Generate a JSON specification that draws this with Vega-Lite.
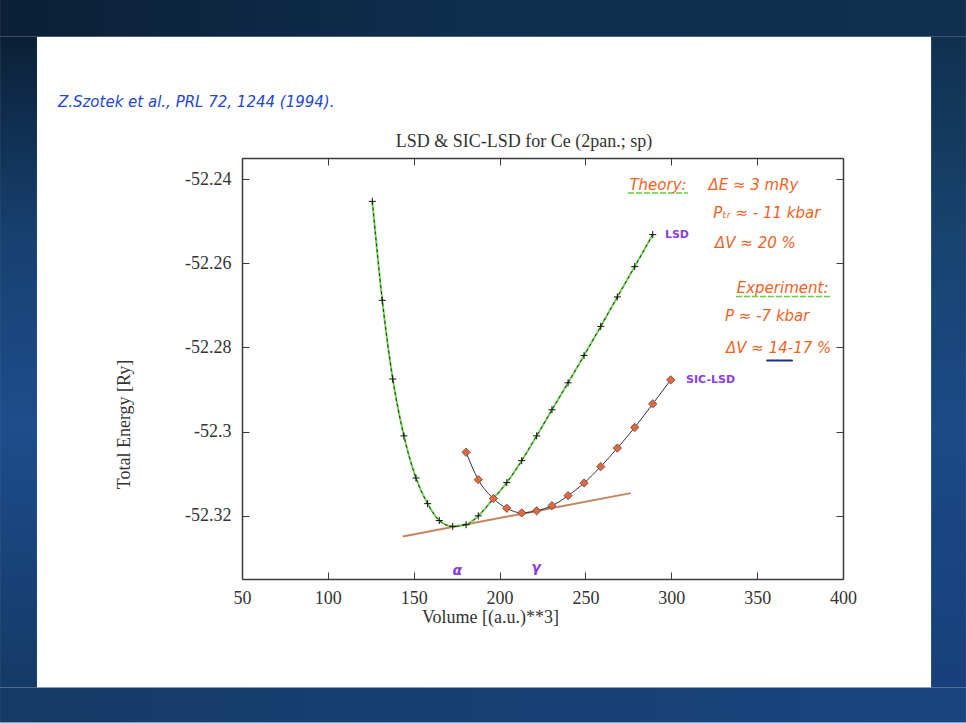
{
  "$schema": "https://vega.github.io/schema/vega-lite/v6.json",
  "width": 601,
  "height": 421,
  "autosize": {"type": "none"},
  "padding": {"left": 242, "top": 158, "right": 123, "bottom": 144},
  "background": "#ffffff",
  "config": {
    "view": {"stroke": null},
    "axis": {
      "grid": false,
      "domainColor": "#3a3a3a",
      "domainWidth": 1.5,
      "tickColor": "#3a3a3a",
      "tickWidth": 1,
      "tickSize": -7,
      "labelFont": "Liberation Serif",
      "labelFontSize": 18,
      "labelColor": "#333333",
      "titleFont": "Liberation Serif",
      "titleFontSize": 18,
      "titleColor": "#333333",
      "titleFontWeight": "normal"
    }
  },
  "datasets": {
    "lsd": [
      {"volume": 125.9, "energy": -52.2453},
      {"volume": 131.7, "energy": -52.2688},
      {"volume": 137.8, "energy": -52.2875},
      {"volume": 144.3, "energy": -52.3010},
      {"volume": 151.3, "energy": -52.3110},
      {"volume": 158.1, "energy": -52.3171},
      {"volume": 164.9, "energy": -52.3211},
      {"volume": 172.7, "energy": -52.3225},
      {"volume": 180.5, "energy": -52.3221},
      {"volume": 187.6, "energy": -52.3200},
      {"volume": 196.4, "energy": -52.3159},
      {"volume": 204.2, "energy": -52.3121},
      {"volume": 212.9, "energy": -52.3069},
      {"volume": 221.6, "energy": -52.3010},
      {"volume": 230.5, "energy": -52.2948},
      {"volume": 239.9, "energy": -52.2884},
      {"volume": 249.2, "energy": -52.2819},
      {"volume": 258.9, "energy": -52.2750},
      {"volume": 268.6, "energy": -52.2680},
      {"volume": 278.7, "energy": -52.2608},
      {"volume": 289.2, "energy": -52.2532}
    ],
    "sic": [
      {"volume": 180.5, "energy": -52.3049},
      {"volume": 187.6, "energy": -52.3114},
      {"volume": 196.4, "energy": -52.3159},
      {"volume": 204.2, "energy": -52.3182},
      {"volume": 212.9, "energy": -52.3193},
      {"volume": 221.6, "energy": -52.3188},
      {"volume": 230.5, "energy": -52.3176},
      {"volume": 239.9, "energy": -52.3152},
      {"volume": 249.2, "energy": -52.3122},
      {"volume": 258.9, "energy": -52.3083},
      {"volume": 268.6, "energy": -52.3039},
      {"volume": 278.7, "energy": -52.2990},
      {"volume": 289.2, "energy": -52.2934},
      {"volume": 299.7, "energy": -52.2877}
    ],
    "tangent": [
      {"volume": 143.6, "energy": -52.3249},
      {"volume": 276.4, "energy": -52.3146}
    ],
    "underlines": [
      {"volume": 274.8, "volume2": 309.7, "energy": -52.2433},
      {"volume": 337.7, "volume2": 393.0, "energy": -52.2679}
    ],
    "wave": [
      {"volume": 355.8, "volume2": 370.3, "energy": -52.2831}
    ],
    "notes": [
      {"volume": 214.2, "energy": -52.2323, "text": "LSD & SIC-LSD for Ce (2pan.; sp)", "group": "title"},
      {"volume": -57.2, "energy": -52.2216, "text": "Z.Szotek et al., PRL 72, 1244 (1994).", "group": "cite"},
      {"volume": 275.6, "energy": -52.2413, "text": "Theory:", "group": "note"},
      {"volume": 321.6, "energy": -52.2413, "text": "ΔE ≈ 3 mRy", "group": "note"},
      {"volume": 324.5, "energy": -52.2481, "text": "Pₜᵣ ≈ - 11 kbar", "group": "note"},
      {"volume": 325.5, "energy": -52.2552, "text": "ΔV ≈ 20 %", "group": "note"},
      {"volume": 338.1, "energy": -52.2659, "text": "Experiment:", "group": "note"},
      {"volume": 331.3, "energy": -52.2726, "text": "P ≈ -7 kbar", "group": "note"},
      {"volume": 331.9, "energy": -52.2801, "text": "ΔV ≈ 14-17 %", "group": "note"},
      {"volume": 296.3, "energy": -52.2532, "text": "LSD", "group": "curve"},
      {"volume": 308.6, "energy": -52.2877, "text": "SIC-LSD", "group": "curve"},
      {"volume": 175.4, "energy": -52.3332, "text": "α", "group": "phase"},
      {"volume": 221.2, "energy": -52.3324, "text": "γ", "group": "phase"}
    ]
  },
  "resolve": {"axis": {"x": "independent", "y": "independent"}},
  "layer": [
    {
      "data": {"values": [{}]},
      "mark": {"type": "rect", "color": {"gradient": "linear", "x1": 0, "y1": 0, "x2": 1, "y2": 0, "stops": [{"offset": 0, "color": "#0b2036"}, {"offset": 0.5, "color": "#0f2e4e"}, {"offset": 1, "color": "#11304f"}]}},
      "encoding": {
        "x": {"datum": -90.9, "type": "quantitative", "axis": null, "scale": {"domain": [50, 400], "nice": false, "zero": false}},
        "x2": {"datum": 471.6},
        "y": {"datum": -52.1974, "type": "quantitative", "axis": null, "scale": {"domain": [-52.335, -52.235], "nice": false, "zero": false}},
        "y2": {"datum": -52.2062}
      }
    },
    {
      "data": {"values": [{}]},
      "mark": {"type": "rect", "color": {"gradient": "linear", "x1": 0, "y1": 0, "x2": 1, "y2": 0, "stops": [{"offset": 0, "color": "#143a66"}, {"offset": 1, "color": "#19457f"}]}},
      "encoding": {
        "x": {"datum": -90.9, "type": "quantitative", "axis": null, "scale": {"domain": [50, 400], "nice": false, "zero": false}},
        "x2": {"datum": 471.6},
        "y": {"datum": -52.3608, "type": "quantitative", "axis": null, "scale": {"domain": [-52.335, -52.235], "nice": false, "zero": false}},
        "y2": {"datum": -52.3691}
      }
    },
    {
      "data": {"values": [{}]},
      "mark": {"type": "rect", "color": {"gradient": "linear", "x1": 0, "y1": 0, "x2": 0, "y2": 1, "stops": [{"offset": 0, "color": "#0b2036"}, {"offset": 0.3, "color": "#17406f"}, {"offset": 0.6, "color": "#1d4d8c"}, {"offset": 1, "color": "#143a66"}]}},
      "encoding": {
        "x": {"datum": -90.9, "type": "quantitative", "axis": null, "scale": {"domain": [50, 400], "nice": false, "zero": false}},
        "x2": {"datum": -69.4},
        "y": {"datum": -52.2062, "type": "quantitative", "axis": null, "scale": {"domain": [-52.335, -52.235], "nice": false, "zero": false}},
        "y2": {"datum": -52.3608}
      }
    },
    {
      "data": {"values": [{}]},
      "mark": {"type": "rect", "color": {"gradient": "linear", "x1": 0, "y1": 0, "x2": 0, "y2": 1, "stops": [{"offset": 0, "color": "#11304f"}, {"offset": 0.3, "color": "#17436f"}, {"offset": 0.6, "color": "#1b4a86"}, {"offset": 1, "color": "#17407a"}]}},
      "encoding": {
        "x": {"datum": 451.3, "type": "quantitative", "axis": null, "scale": {"domain": [50, 400], "nice": false, "zero": false}},
        "x2": {"datum": 471.6},
        "y": {"datum": -52.2062, "type": "quantitative", "axis": null, "scale": {"domain": [-52.335, -52.235], "nice": false, "zero": false}},
        "y2": {"datum": -52.3608}
      }
    },
    {
      "data": {"name": "tangent"},
      "mark": {"type": "line", "color": "#c4845c", "strokeWidth": 2},
      "encoding": {
        "x": {"field": "volume", "type": "quantitative", "axis": null, "scale": {"domain": [50, 400], "nice": false, "zero": false}},
        "y": {"field": "energy", "type": "quantitative", "axis": null, "scale": {"domain": [-52.335, -52.235], "nice": false, "zero": false}}
      }
    },
    {
      "data": {"name": "lsd"},
      "mark": {"type": "line", "color": "#74d856", "strokeWidth": 2, "interpolate": "monotone"},
      "encoding": {
        "x": {
          "field": "volume", "type": "quantitative",
          "scale": {"domain": [50, 400], "nice": false, "zero": false},
          "axis": {
            "orient": "bottom",
            "values": [50, 100, 150, 200, 250, 300, 350, 400],
            "labelPadding": 17,
            "labelFlush": false,
            "title": "Volume [(a.u.)**3]",
            "titleX": 248,
            "titleY": 43,
            "titleAlign": "center",
            "titleBaseline": "alphabetic"
          }
        },
        "y": {
          "field": "energy", "type": "quantitative",
          "scale": {"domain": [-52.335, -52.235], "nice": false, "zero": false},
          "axis": {
            "orient": "left",
            "values": [-52.32, -52.3, -52.28, -52.26, -52.24],
            "format": ".4~g",
            "labelExpr": "replace(datum.label, '\u2212', '-')",
            "labelPadding": 18,
            "labelFlush": false,
            "title": "Total Energy [Ry]",
            "titleX": -113,
            "titleY": 266,
            "titleAngle": 270,
            "titleAlign": "center",
            "titleBaseline": "alphabetic"
          }
        }
      }
    },
    {
      "data": {"name": "lsd"},
      "mark": {"type": "line", "color": "#1a1a1a", "strokeWidth": 0.9, "strokeDash": [3, 3], "interpolate": "monotone"},
      "encoding": {
        "x": {
          "field": "volume", "type": "quantitative",
          "scale": {"domain": [50, 400], "nice": false, "zero": false},
          "axis": {"orient": "top", "values": [50, 100, 150, 200, 250, 300, 350, 400], "labels": false, "title": null}
        },
        "y": {
          "field": "energy", "type": "quantitative",
          "scale": {"domain": [-52.335, -52.235], "nice": false, "zero": false},
          "axis": {"orient": "right", "values": [-52.32, -52.3, -52.28, -52.26, -52.24], "labels": false, "title": null}
        }
      }
    },
    {
      "data": {"name": "lsd"},
      "mark": {"type": "point", "shape": "M-1,0H1M0,-1V1", "filled": false, "color": "#111111", "strokeWidth": 1, "size": 50, "opacity": 1},
      "encoding": {
        "x": {"field": "volume", "type": "quantitative", "axis": null, "scale": {"domain": [50, 400], "nice": false, "zero": false}},
        "y": {"field": "energy", "type": "quantitative", "axis": null, "scale": {"domain": [-52.335, -52.235], "nice": false, "zero": false}}
      }
    },
    {
      "data": {"name": "sic"},
      "mark": {"type": "line", "color": "#333333", "strokeWidth": 1, "interpolate": "monotone"},
      "encoding": {
        "x": {"field": "volume", "type": "quantitative", "axis": null, "scale": {"domain": [50, 400], "nice": false, "zero": false}},
        "y": {"field": "energy", "type": "quantitative", "axis": null, "scale": {"domain": [-52.335, -52.235], "nice": false, "zero": false}}
      }
    },
    {
      "data": {"name": "sic"},
      "mark": {"type": "point", "shape": "diamond", "filled": true, "fill": "#dc6a44", "stroke": "#6e4434", "strokeWidth": 0.8, "size": 70, "opacity": 1},
      "encoding": {
        "x": {"field": "volume", "type": "quantitative", "axis": null, "scale": {"domain": [50, 400], "nice": false, "zero": false}},
        "y": {"field": "energy", "type": "quantitative", "axis": null, "scale": {"domain": [-52.335, -52.235], "nice": false, "zero": false}}
      }
    },
    {
      "data": {"name": "underlines"},
      "mark": {"type": "rule", "color": "#66cc44", "strokeWidth": 1.5, "strokeDash": [6, 2]},
      "encoding": {
        "x": {"field": "volume", "type": "quantitative", "axis": null, "scale": {"domain": [50, 400], "nice": false, "zero": false}},
        "x2": {"field": "volume2"},
        "y": {"field": "energy", "type": "quantitative", "axis": null, "scale": {"domain": [-52.335, -52.235], "nice": false, "zero": false}}
      }
    },
    {
      "data": {"name": "wave"},
      "mark": {"type": "rule", "color": "#1c2a8c", "strokeWidth": 2, "strokeCap": "round"},
      "encoding": {
        "x": {"field": "volume", "type": "quantitative", "axis": null, "scale": {"domain": [50, 400], "nice": false, "zero": false}},
        "x2": {"field": "volume2"},
        "y": {"field": "energy", "type": "quantitative", "axis": null, "scale": {"domain": [-52.335, -52.235], "nice": false, "zero": false}}
      }
    },
    {
      "data": {"name": "notes"},
      "transform": [{"filter": "datum.group === 'title'"}],
      "mark": {"type": "text", "align": "center", "baseline": "alphabetic", "font": "Liberation Serif", "fontSize": 18, "color": "#333333"},
      "encoding": {
        "x": {"field": "volume", "type": "quantitative", "axis": null, "scale": {"domain": [50, 400], "nice": false, "zero": false}},
        "y": {"field": "energy", "type": "quantitative", "axis": null, "scale": {"domain": [-52.335, -52.235], "nice": false, "zero": false}},
        "text": {"field": "text"}
      }
    },
    {
      "data": {"name": "notes"},
      "transform": [{"filter": "datum.group === 'cite'"}],
      "mark": {"type": "text", "align": "left", "baseline": "middle", "font": "DejaVu Sans", "fontStyle": "italic", "fontSize": 15, "color": "#2346d6"},
      "encoding": {
        "x": {"field": "volume", "type": "quantitative", "axis": null, "scale": {"domain": [50, 400], "nice": false, "zero": false}},
        "y": {"field": "energy", "type": "quantitative", "axis": null, "scale": {"domain": [-52.335, -52.235], "nice": false, "zero": false}},
        "text": {"field": "text"}
      }
    },
    {
      "data": {"name": "notes"},
      "transform": [{"filter": "datum.group === 'note'"}],
      "mark": {"type": "text", "align": "left", "baseline": "middle", "font": "DejaVu Sans", "fontStyle": "italic", "fontSize": 15, "color": "#f0621e"},
      "encoding": {
        "x": {"field": "volume", "type": "quantitative", "axis": null, "scale": {"domain": [50, 400], "nice": false, "zero": false}},
        "y": {"field": "energy", "type": "quantitative", "axis": null, "scale": {"domain": [-52.335, -52.235], "nice": false, "zero": false}},
        "text": {"field": "text"}
      }
    },
    {
      "data": {"name": "notes"},
      "transform": [{"filter": "datum.group === 'curve'"}],
      "mark": {"type": "text", "align": "left", "baseline": "middle", "font": "DejaVu Sans", "fontWeight": "bold", "fontSize": 11, "color": "#8c3ce6"},
      "encoding": {
        "x": {"field": "volume", "type": "quantitative", "axis": null, "scale": {"domain": [50, 400], "nice": false, "zero": false}},
        "y": {"field": "energy", "type": "quantitative", "axis": null, "scale": {"domain": [-52.335, -52.235], "nice": false, "zero": false}},
        "text": {"field": "text"}
      }
    },
    {
      "data": {"name": "notes"},
      "transform": [{"filter": "datum.group === 'phase'"}],
      "mark": {"type": "text", "align": "center", "baseline": "middle", "font": "DejaVu Sans", "fontWeight": "bold", "fontStyle": "italic", "fontSize": 14, "color": "#8c3ce6"},
      "encoding": {
        "x": {"field": "volume", "type": "quantitative", "axis": null, "scale": {"domain": [50, 400], "nice": false, "zero": false}},
        "y": {"field": "energy", "type": "quantitative", "axis": null, "scale": {"domain": [-52.335, -52.235], "nice": false, "zero": false}},
        "text": {"field": "text"}
      }
    }
  ]
}
